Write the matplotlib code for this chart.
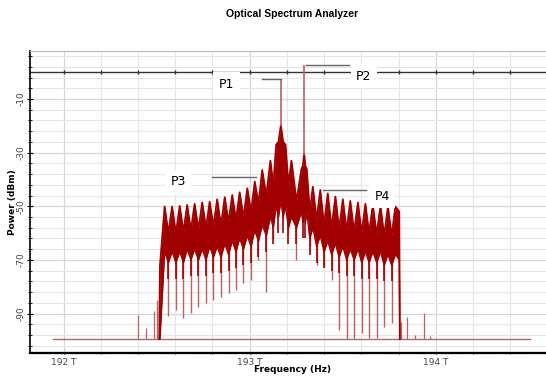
import numpy as np
import matplotlib.pyplot as plt
from matplotlib.ticker import MultipleLocator, FuncFormatter

plt.rcParams['axes.unicode_minus'] = False

# comb lobes (THz) and their peak levels (dBm)
lobe_f = [192.543, 192.583, 192.624, 192.664, 192.704, 192.745, 192.785, 192.825,
          192.866, 192.906, 192.946, 192.987, 193.027, 193.067,
          193.111, 193.142, 193.167, 193.192, 193.224, 193.278, 193.292, 193.306,
          193.339, 193.379, 193.419, 193.460, 193.500, 193.540,
          193.581, 193.621, 193.661, 193.702, 193.742, 193.782]
lobe_peak = [-50.1, -50.1, -49.9, -49.5, -49.1, -48.6, -48.3, -47.4, -46.6, -45.8,
             -44.8, -43.3, -40.8, -36.5,
             -33.0, -27.0, -19.8, -27.0, -33.0, -36.0, -30.3, -36.0,
             -42.7, -43.9, -45.2, -46.4, -47.4, -48.0,
             -48.6, -49.1, -49.5, -49.8, -50.1, -50.1]
# bottom of the dense band under each lobe
band_bottom = [-67, -67, -67, -66, -66, -66, -65, -65, -64, -63, -62, -61, -59, -57,
               -54, -50, -48, -50, -54, -52, -50, -52,
               -58, -61, -63, -64, -65, -66, -66, -67, -67, -67, -68, -68]
# V between neighbouring lobes, and the depth of the thin null there
trough = [-60, -60, -59.5, -59, -58.5, -58, -57.5, -57, -56, -55, -54, -52, -49,
          -46, -42, -26, -26, -42, -48, -35, -35, -52,
          -55, -57, -58, -58.5, -59, -59.5, -60, -60, -60.5, -61, -61]
null_depth = [-91.0, -88.6, -91.7, -89.8, -87.4, -86.0, -85.0, -83.7, -82.5, -81.2,
              -78.7, -77.5, -70.0,
              -81.8, -62.0, -50.0, -50.0, -60.0, -70.0, -45.0, -45.0, -65.0,
              -72.0, -72.5, -77.5, -96.0, -99.6, -99.6, -97.3, -99.2, -99.2, -94.9, -93.6]
band_start, band_end = 192.514, 193.806

# noise floor and small spurs
floor_f = [191.946, 194.505]
floor_p = -99.5
spur_f = [192.398, 192.441, 192.484, 192.500, 193.815, 193.844, 193.887, 193.935, 193.968]
spur_p = [-90.6, -95.4, -89.1, -85.0, -93.0, -91.3, -98.0, -89.8, -98.5]

# pump spikes and markers
p1_f, p1_top = 193.167, -2.6
p2_f, p2_top = 193.292, 2.8
marks = {
    'P1': dict(line=(193.065, 193.167, -2.6), text=(192.876, -4.6)),
    'P2': dict(line=(193.300, 193.532, 2.5), text=(193.613, -1.6)),
    'P3': dict(line=(192.796, 193.035, -39.0), text=(192.615, -40.8)),
    'P4': dict(line=(193.394, 193.627, -43.9), text=(193.710, -46.2)),
}

red = '#a00000'
light_red = '#b86262'

fig = plt.figure(figsize=(5.46, 3.77), dpi=100)
ax = fig.add_axes([30/546, (377-352.7)/377, (554-30)/546, (352.7-50.7)/377])
ax.set_xlim(191.82, 194.634)
ax.set_ylim(-104.6, 8)

# grid
ax.xaxis.set_major_locator(MultipleLocator(1.0))
ax.xaxis.set_minor_locator(MultipleLocator(0.2))
ax.yaxis.set_major_locator(MultipleLocator(20, offset=10))
ax.yaxis.set_minor_locator(MultipleLocator(4, offset=2))
ax.grid(which='minor', color='#e6e6e6', lw=0.8)
ax.grid(which='major', color='#d6d6d6', lw=0.9)
ax.set_axisbelow(True)

# 0 dBm reference line
ax.axhline(0, color='#333333', lw=1.0, zorder=2)
ticks = np.arange(192.0, 194.7, 0.2)
ax.plot(ticks, np.zeros_like(ticks), '|', color='#333333', ms=3, mew=1.0, zorder=2)

# noise floor + spurs
ax.plot(floor_f, [floor_p, floor_p], color=light_red, lw=1.0, zorder=3)
ax.vlines(spur_f, floor_p, spur_p, color=light_red, lw=0.9, zorder=3)

# spectrum band
lf = np.array(lobe_f)
mids = (lf[:-1] + lf[1:]) / 2
lo_mid = [min(band_bottom[i], band_bottom[i+1]) - 4 for i in range(len(mids))]
xs = [band_start, band_start + 0.004]
up = [floor_p, -72]
lo = [floor_p, floor_p]
for i in range(len(lf)):
    xs.append(lf[i]); up.append(lobe_peak[i]); lo.append(band_bottom[i])
    if i < len(mids):
        xs.append(mids[i]); up.append(trough[i]); lo.append(lo_mid[i])
xs += [band_end - 0.003, band_end]
up += [-52, floor_p]
lo += [-70, floor_p]
ax.vlines(mids, np.array(trough) - 2, null_depth, color=light_red, lw=1.0, zorder=3)
ax.vlines(mids, np.array(trough), np.array(lo_mid) - 6, color=red, lw=1.2, zorder=4)
ax.fill_between(xs, lo, up, color=red, lw=0, zorder=4)
ax.plot(xs, up, color=red, lw=1.3, zorder=4)
ax.plot(xs, lo, color=red, lw=1.0, zorder=4)

# pump spikes
ax.vlines([p1_f, p2_f], [-20, -31], [p1_top, p2_top], color=light_red, lw=1.2, zorder=4)

# labels P1..P4
for name, m in marks.items():
    x0, x1, y = m['line']
    ax.plot([x0, x1], [y, y], color='#666666', lw=1.0, zorder=5)
    ax.text(*m['text'], name, fontsize=9, ha='center', va='center', zorder=6,
            bbox=dict(facecolor='white', edgecolor='none', pad=4))

ax.spines['right'].set_visible(False)
ax.spines['top'].set_color('#bbbbbb')
ax.spines['top'].set_linestyle((0, (1, 1)))
ax.spines['bottom'].set_linestyle((0, (1, 0.6)))
ax.spines['bottom'].set_linewidth(1.6)
ax.spines['left'].set_linewidth(1.2)

ax.xaxis.set_major_formatter(FuncFormatter(lambda v, p: f'{v:.0f} T'))
ax.tick_params(axis='x', which='both', length=2, direction='inout', labelsize=6.5,
               labelcolor='#444444', pad=3)
ax.tick_params(axis='y', which='major', length=5, direction='inout', labelsize=6.5,
               labelcolor='#444444', pad=1)
ax.tick_params(axis='y', which='minor', length=3, direction='inout')
for lab in ax.get_yticklabels():
    lab.set_rotation(90)
    lab.set_va('center')

fig.text(292/546, 1 - 370/377, 'Frequency (Hz)', fontsize=6.5, fontweight='bold',
         ha='center', va='center')
fig.text(13/546, 1 - 202/377, 'Power (dBm)', fontsize=6.5, fontweight='bold',
         ha='center', va='center', rotation=90)
fig.text(292/546, 1 - 14/377, 'Optical Spectrum Analyzer', fontsize=7.5,
         fontweight='bold', ha='center', va='center', family='Liberation Sans')

fig.savefig('out.png', dpi=100)
